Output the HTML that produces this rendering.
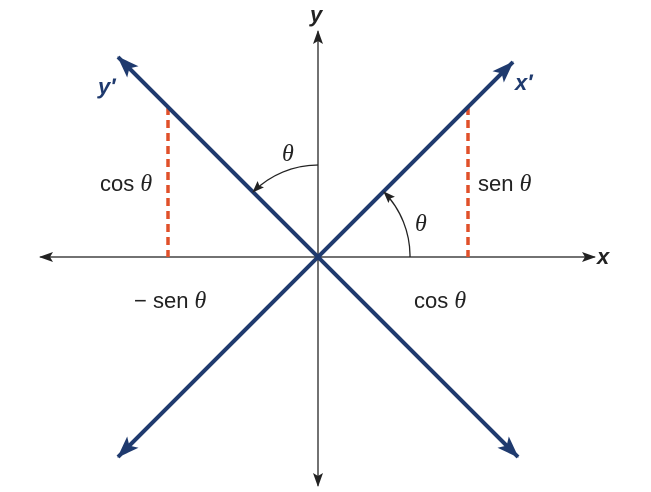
<!DOCTYPE html>
<html><head><style>body{margin:0;background:#fff}svg{display:block}</style></head><body>
<svg width="651" height="492" viewBox="0 0 651 492" xmlns="http://www.w3.org/2000/svg">
<defs>
<marker id="ka" markerWidth="14" markerHeight="10" refX="13" refY="5" orient="auto" markerUnits="userSpaceOnUse"><path d="M0,0 L14,5 L0,10 L3,5 Z" fill="#222"/></marker>
<marker id="ba" markerWidth="22" markerHeight="16" refX="21" refY="8" orient="auto" markerUnits="userSpaceOnUse"><path d="M0,0 L22,8 L0,16 L5,8 Z" fill="#1f3a6e"/></marker>
<marker id="sa" markerWidth="12" markerHeight="9" refX="11" refY="4.5" orient="auto" markerUnits="userSpaceOnUse"><path d="M0,0 L12,4.5 L0,9 L2,4.5 Z" fill="#222"/></marker>
</defs>
<g stroke="#444" stroke-width="1.5">
<line x1="318" y1="257" x2="40" y2="257" marker-end="url(#ka)"/>
<line x1="318" y1="257" x2="595" y2="257" marker-end="url(#ka)"/>
<line x1="318" y1="257" x2="318" y2="31" marker-end="url(#ka)"/>
<line x1="318" y1="257" x2="318" y2="486" marker-end="url(#ka)"/>
</g>
<g stroke="#e0502a" stroke-width="3.5" stroke-dasharray="8,5">
<line x1="168" y1="107" x2="168" y2="257"/>
<line x1="468" y1="107" x2="468" y2="257"/>
</g>
<g stroke="#1f3a6e" stroke-width="4">
<line x1="318" y1="257" x2="118" y2="57" marker-end="url(#ba)"/>
<line x1="318" y1="257" x2="118" y2="457" marker-end="url(#ba)"/>
<line x1="318" y1="257" x2="513" y2="62" marker-end="url(#ba)"/>
<line x1="318" y1="257" x2="518" y2="457" marker-end="url(#ba)"/>
</g>
<g fill="none" stroke="#222" stroke-width="1.3">
<path d="M410,257 A92,92 0 0 0 384,192" marker-end="url(#sa)"/>
<path d="M318,165 A92,92 0 0 0 253,192" marker-end="url(#sa)"/>
</g>
<g font-family="Liberation Sans, sans-serif" font-size="22" fill="#222">
<text x="310" y="22" font-weight="bold" font-style="italic">y</text>
<text x="597" y="264" font-weight="bold" font-style="italic" font-size="22">x</text>
<text x="98" y="94" font-weight="bold" font-style="italic" fill="#1f3a6e">y′</text>
<text x="515" y="90" font-weight="bold" font-style="italic" fill="#1f3a6e">x′</text>
<text x="100" y="191">cos <tspan font-family="Liberation Serif, serif" font-style="italic" font-size="24">θ</tspan></text>
<text x="478" y="191">sen <tspan font-family="Liberation Serif, serif" font-style="italic" font-size="24">θ</tspan></text>
<text x="414" y="308">cos <tspan font-family="Liberation Serif, serif" font-style="italic" font-size="24">θ</tspan></text>
<text x="134" y="308">− sen <tspan font-family="Liberation Serif, serif" font-style="italic" font-size="24">θ</tspan></text>
<text x="282" y="161" font-family="Liberation Serif, serif" font-style="italic" font-size="24">θ</text>
<text x="415" y="231" font-family="Liberation Serif, serif" font-style="italic" font-size="24">θ</text>
</g>
</svg>
</body></html>
